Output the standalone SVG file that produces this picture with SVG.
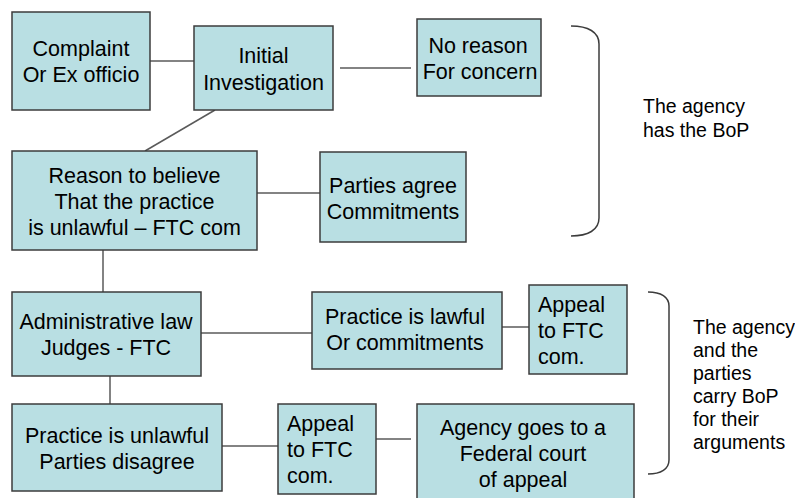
<svg xmlns="http://www.w3.org/2000/svg" width="795" height="498" viewBox="0 0 795 498">
<style>
.box{fill:#b9dfe3;stroke:#3c3c3c;stroke-width:1.5}
.t{font-family:"Liberation Sans",Arial,sans-serif;font-size:21.5px;fill:#000}
.c{text-anchor:middle}
.s{font-family:"Liberation Sans",Arial,sans-serif;font-size:19.5px;fill:#000}
.ln{stroke:#5a5a5a;stroke-width:1.5;fill:none}
.br{stroke:#3c3c3c;stroke-width:1.5;fill:none}
</style>
<rect width="795" height="498" fill="#fff"/>
<g id="connectors">
<line class="ln" x1="150" y1="61" x2="194" y2="61"/>
<line class="ln" x1="340" y1="68" x2="411" y2="68"/>
<line class="ln" x1="215" y1="110" x2="145" y2="151"/>
<line class="ln" x1="257" y1="193" x2="320" y2="193"/>
<line class="ln" x1="103" y1="250" x2="103" y2="292"/>
<line class="ln" x1="201" y1="333" x2="312" y2="333"/>
<line class="ln" x1="502" y1="327" x2="529" y2="327"/>
<line class="ln" x1="110" y1="376" x2="110" y2="404"/>
<line class="ln" x1="222" y1="446" x2="278" y2="446"/>
<line class="ln" x1="376" y1="439" x2="411" y2="439"/>
</g>
<g id="complaint">
<rect class="box" x="12" y="12" width="138" height="98"/>
<text class="t c" x="81" y="56">Complaint</text>
<text class="t c" x="81" y="82">Or Ex officio</text>
</g>
<g id="initial">
<rect class="box" x="194" y="26" width="139" height="84"/>
<text class="t c" x="263.5" y="63">Initial</text>
<text class="t c" x="263.5" y="90">Investigation</text>
</g>
<g id="noreason">
<rect class="box" x="417" y="19" width="124" height="77"/>
<text class="t c" x="478" y="53">No reason</text>
<text class="t c" x="480" y="79">For concern</text>
</g>
<g id="reason">
<rect class="box" x="12" y="151" width="245" height="99"/>
<text class="t c" x="134.5" y="183">Reason to believe</text>
<text class="t c" x="134.5" y="209">That the practice</text>
<text class="t c" x="134.5" y="235">is unlawful – FTC com</text>
</g>
<g id="agree">
<rect class="box" x="320" y="152" width="146" height="90"/>
<text class="t c" x="393" y="193">Parties agree</text>
<text class="t c" x="393" y="219">Commitments</text>
</g>
<g id="brace1">
<path class="br" d="M571,26 C588,26 599,32 599,44 L599,218 C599,230 588,236 571,236"/>
<text class="s" x="643" y="113">The agency</text>
<text class="s" x="643" y="137">has the BoP</text>
</g>
<g id="alj">
<rect class="box" x="12" y="292" width="189" height="84"/>
<text class="t c" x="106" y="329">Administrative law</text>
<text class="t c" x="106" y="355">Judges - FTC</text>
</g>
<g id="lawful">
<rect class="box" x="312" y="292" width="190" height="77"/>
<text class="t c" x="405" y="324">Practice is lawful</text>
<text class="t c" x="405" y="350">Or commitments</text>
</g>
<g id="appeal1">
<rect class="box" x="529" y="285" width="98" height="89"/>
<text class="t" x="538" y="312">Appeal</text>
<text class="t" x="538" y="338">to FTC</text>
<text class="t" x="538" y="364">com.</text>
</g>
<g id="unlawful">
<rect class="box" x="12" y="404" width="210" height="87"/>
<text class="t c" x="117" y="443">Practice is unlawful</text>
<text class="t c" x="117" y="469">Parties disagree</text>
</g>
<g id="appeal2">
<rect class="box" x="278" y="404" width="98" height="90"/>
<text class="t" x="287" y="431">Appeal</text>
<text class="t" x="287" y="457">to FTC</text>
<text class="t" x="287" y="483">com.</text>
</g>
<g id="federal">
<rect class="box" x="417" y="404" width="217" height="100"/>
<text class="t c" x="523" y="435">Agency goes to a</text>
<text class="t c" x="523" y="461">Federal court</text>
<text class="t c" x="523" y="487">of appeal</text>
</g>
<g id="brace2">
<path class="br" d="M648,292 C661,292 669,297 669,306 L669,460 C669,469 661,474 648,474"/>
<text class="s" x="693" y="334">The agency</text>
<text class="s" x="693" y="357">and the</text>
<text class="s" x="693" y="380">parties</text>
<text class="s" x="693" y="403">carry BoP</text>
<text class="s" x="693" y="426">for their</text>
<text class="s" x="693" y="449">arguments</text>
</g>
</svg>
